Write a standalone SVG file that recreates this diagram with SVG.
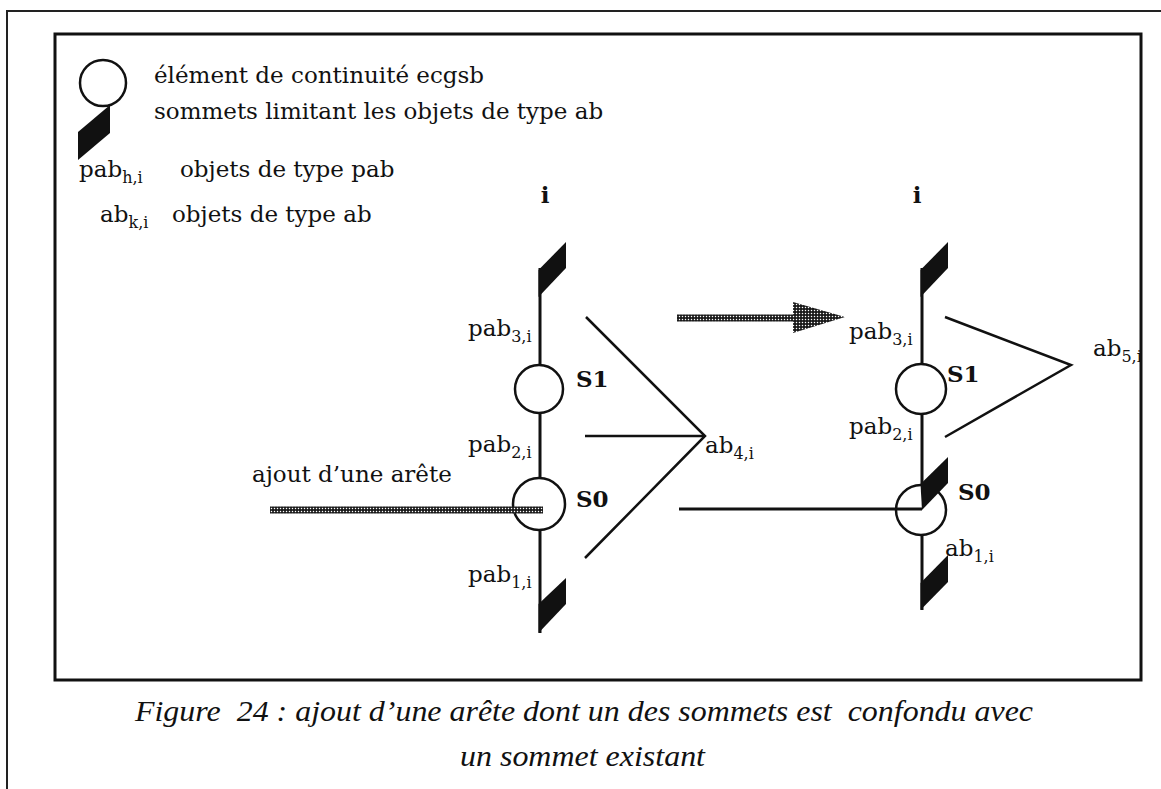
<svg xmlns="http://www.w3.org/2000/svg" width="1161" height="789" viewBox="0 0 1161 789">
<style>
  .t { font-family: "DejaVu Serif", "Liberation Serif", serif; font-size: 23px; fill: #111; }
  .b { font-family: "DejaVu Serif", "Liberation Serif", serif; font-size: 23px; font-weight: bold; fill: #111; }
  .sub { font-size: 16px; }
  .cap { font-family: "Liberation Serif", "Times New Roman", serif; font-style: italic; font-size: 29px; fill: #111; }
  .ln { stroke: #111; stroke-width: 3; fill: none; stroke-linecap: butt; }
  .thin { stroke: #111; stroke-width: 2.5; fill: none; }
  .circ { stroke: #111; stroke-width: 2.5; fill: #fff; }
  .par { fill: #111; stroke: none; }
  .hatch { fill: url(#dots); stroke: none; }
</style>
<defs>
  <pattern id="dots" width="3" height="3" patternUnits="userSpaceOnUse">
    <rect width="3" height="3" fill="#1a1a1a"/>
    <circle cx="1.5" cy="1.5" r="0.75" fill="#fff"/>
  </pattern>
  <clipPath id="frameClip">
    <rect x="55" y="34" width="1085" height="646"/>
  </clipPath>
</defs>
<rect width="1161" height="789" fill="#fff"/>

<!-- outer page frame -->
<path d="M7,789 V11 H1161" stroke="#222" stroke-width="2" fill="none"/>

<!-- legend -->
<g id="legend">
  <circle cx="103" cy="83" r="23" class="circ"/>
  <polygon class="par" points="78,132 110,105 110,133 78,160"/>
  <text class="t" x="154" y="83">élément de continuité ecgsb</text>
  <text class="t" x="154" y="119">sommets limitant les objets de type ab</text>
  <text class="t" x="79" y="177">pab<tspan class="sub" dy="6">h,i</tspan></text>
  <text class="t" x="180" y="177">objets de type pab</text>
  <text class="t" x="100" y="222">ab<tspan class="sub" dy="6">k,i</tspan></text>
  <text class="t" x="172" y="222">objets de type ab</text>
</g>

<!-- connectors -->
<g id="connectors">
  <line class="ln" x1="540" y1="268" x2="540" y2="633"/>
  <line class="ln" x1="922" y1="268" x2="922" y2="610"/>
  <polyline class="thin" points="586,317 705,436 585,558"/>
  <line class="thin" x1="585" y1="436" x2="705" y2="436"/>
  <polyline class="thin" points="945,317 1071,365 945,437"/>
</g>

<!-- left figure nodes -->
<g id="left-axis">
  <text class="b" x="545" y="203" text-anchor="middle">i</text>
  <polygon class="par" points="538.5,270 566,242 566,268 538.5,297"/>
  <polygon class="par" points="538.5,604 566,578 566,604 538.5,633"/>
  <text class="t" x="468" y="336">pab<tspan class="sub" dy="6">3,i</tspan></text>
  <text class="t" x="468" y="452">pab<tspan class="sub" dy="6">2,i</tspan></text>
  <text class="t" x="468" y="582">pab<tspan class="sub" dy="6">1,i</tspan></text>
  <text class="t" x="705" y="453">ab<tspan class="sub" dy="6">4,i</tspan></text>
</g>
<g id="left-S1">
  <circle class="circ" cx="539" cy="389" r="24"/>
  <text class="b" x="576" y="387">S1</text>
</g>
<g id="left-S0">
  <circle class="circ" cx="539" cy="504" r="26"/>
  <text class="b" x="576" y="507">S0</text>
</g>
<g id="new-edge">
  <rect class="hatch" x="270" y="506.5" width="273" height="7"/>
  <text class="t" x="252" y="482">ajout d’une arête</text>
</g>

<!-- transformation arrow -->
<g id="arrow">
  <rect class="hatch" x="677" y="314.5" width="117" height="7"/>
  <polygon class="hatch" points="793,302 845,317 793,333"/>
</g>

<!-- right figure nodes -->
<g id="right-axis">
  <text class="b" x="917" y="203" text-anchor="middle">i</text>
  <polygon class="par" points="920.5,270 948,242 948,268 920.5,297"/>
  <polygon class="par" points="920.5,583 948,555 948,582 920.5,610"/>
  <text class="t" x="849" y="339">pab<tspan class="sub" dy="6">3,i</tspan></text>
  <text class="t" x="849" y="434">pab<tspan class="sub" dy="6">2,i</tspan></text>
  <text class="t" x="945" y="556">ab<tspan class="sub" dy="6">1,i</tspan></text>
  <g clip-path="url(#frameClip)">
    <text class="t" x="1093" y="356">ab<tspan class="sub" dy="6">5,i</tspan></text>
  </g>
</g>
<g id="right-S1">
  <circle class="circ" cx="921" cy="389" r="25"/>
  <text class="b" x="947" y="382">S1</text>
</g>
<g id="right-S0">
  <circle class="circ" cx="921" cy="510" r="25"/>
  <polygon class="par" points="920.5,484 948,457 948,483 922,510"/>
  <line class="ln" x1="679" y1="509" x2="922" y2="509"/>
  <text class="b" x="958" y="500">S0</text>
</g>

<!-- inner frame -->
<rect x="55" y="34" width="1086" height="646" fill="none" stroke="#111" stroke-width="3"/>

<!-- caption -->
<g id="caption">
  <text class="cap" xml:space="preserve" x="135" y="721" textLength="898" lengthAdjust="spacingAndGlyphs">Figure  24 : ajout d’une arête dont un des sommets est  confondu avec</text>
  <text class="cap" x="460" y="766" textLength="245" lengthAdjust="spacingAndGlyphs">un sommet existant</text>
</g>
</svg>
